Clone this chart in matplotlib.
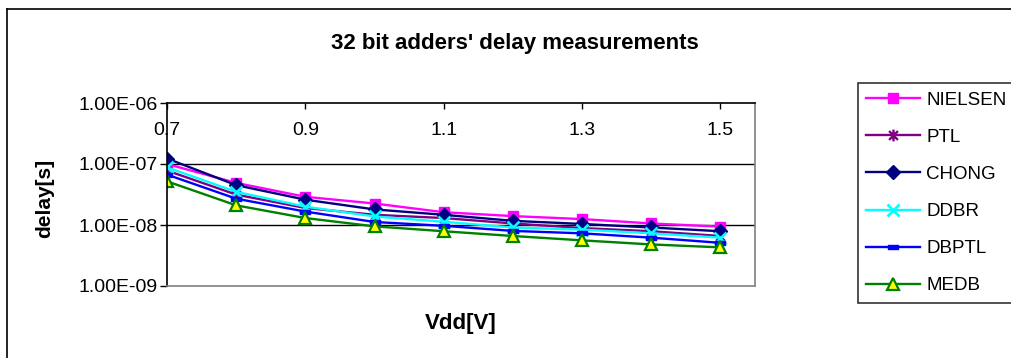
import math
import matplotlib
matplotlib.use("Agg")
import matplotlib.pyplot as plt
from matplotlib.path import Path
from matplotlib.lines import Line2D
from matplotlib.ticker import FixedLocator, FuncFormatter

plt.rcParams['font.family'] = ['Liberation Sans', 'DejaVu Sans']

vdd = [0.7, 0.8, 0.9, 1.0, 1.1, 1.2, 1.3, 1.4, 1.5]
nielsen = [1.0e-7, 4.9e-8, 2.9e-8, 2.25e-8, 1.62e-8, 1.4e-8, 1.25e-8, 1.06e-8, 9.4e-9]
ptl = [7.8e-8, 3.15e-8, 1.9e-8, 1.47e-8, 1.3e-8, 1.06e-8, 8.9e-9, 7.9e-9, 6.6e-9]
chong = [1.23e-7, 4.5e-8, 2.6e-8, 1.8e-8, 1.47e-8, 1.17e-8, 1.04e-8, 9.1e-9, 7.9e-9]
ddbr = [8.8e-8, 3.5e-8, 2.0e-8, 1.38e-8, 1.13e-8, 9.1e-9, 8.4e-9, 7.3e-9, 6.2e-9]
dbptl = [6.7e-8, 2.7e-8, 1.66e-8, 1.12e-8, 9.7e-9, 8.0e-9, 7.3e-9, 6.2e-9, 5.1e-9]
medb = [5.2e-8, 2.1e-8, 1.3e-8, 9.5e-9, 7.9e-9, 6.6e-9, 5.6e-9, 4.8e-9, 4.3e-9]
labels = ["NIELSEN", "PTL", "CHONG", "DDBR", "DBPTL", "MEDB"]
xticks = [0.7, 0.9, 1.1, 1.3, 1.5]
yticks = [1e-9, 1e-8, 1e-7, 1e-6]

W, H = 1011, 358
fig = plt.figure(figsize=(W / 100, H / 100), dpi=100)

def fx(px):
    return px / W

def fy(py):
    return 1 - py / H

L, R, T, B = 167, 755, 103, 286
ax = fig.add_axes([fx(L), fy(B), fx(R - L), (B - T) / H])

star = Path([(0, -1), (0, 1), (-0.75, -0.75), (0.75, 0.75), (-0.75, 0.75), (0.75, -0.75)],
            [Path.MOVETO, Path.LINETO, Path.MOVETO, Path.LINETO, Path.MOVETO, Path.LINETO])
dash = Path([(-1, -0.35), (1, -0.35), (1, 0.35), (-1, 0.35), (-1, -0.35)],
            [Path.MOVETO, Path.LINETO, Path.LINETO, Path.LINETO, Path.CLOSEPOLY])

lw = 1.7
ax.plot(vdd, nielsen, color='#FF00FF', lw=lw, marker='s', ms=7.5, mfc='#FF00FF', mec='#FF00FF', label=labels[0])
ax.plot(vdd, ptl, color='#800080', lw=lw, marker=star, ms=8.5, mec='#800080', mew=1.7, label=labels[1])
ax.plot(vdd, chong, color='#000080', lw=lw, marker='D', ms=7, mfc='#000080', mec='#000080', label=labels[2])
ax.plot(vdd, ddbr, color='#00FFFF', lw=lw, marker='x', ms=8, mec='#00FFFF', mew=1.9, label=labels[3])
ax.plot(vdd, dbptl, color='#0000FF', lw=lw, marker=dash, ms=6.5, mfc='#0000FF', mec='#0000FF', label=labels[4])
ax.plot(vdd, medb, color='#008000', lw=lw, marker='^', ms=8.5, mfc='#FFFF00', mec='#008000', mew=1.6, label=labels[5])

ax.set_yscale('log')
ax.set_ylim(1e-9, 1e-6)
ax.set_xlim(0.7, 1.55)
ax.yaxis.set_major_locator(FixedLocator(yticks))
ax.yaxis.set_minor_locator(FixedLocator([]))
ax.yaxis.set_major_formatter(FuncFormatter(lambda v, p: "1.00E-%02d" % round(-math.log10(v))))
ax.set_xticks(xticks)
ax.set_xticklabels(["%.1f" % v for v in xticks])
ax.xaxis.set_ticks_position('top')
ax.tick_params(axis='x', top=True, bottom=False, labeltop=True, labelbottom=False,
               direction='in', length=4, width=1, pad=-26, labelsize=14, colors='black')
ax.tick_params(axis='y', direction='out', length=5, width=1, pad=2, labelsize=14)
for v in [1e-7, 1e-8]:
    ax.axhline(v, color='black', lw=1, zorder=0.5)

ax.spines['left'].set_color('black')
ax.spines['top'].set_color('black')
ax.spines['right'].set_color('#808080')
ax.spines['bottom'].set_color('#808080')
for s in ax.spines.values():
    s.set_linewidth(1.2)

fig.text(fx(515), fy(43), "32 bit adders' delay measurements", ha='center', va='center',
         fontsize=16, fontweight='bold')
fig.text(fx(461), fy(323), "Vdd[V]", ha='center', va='center', fontsize=16, fontweight='bold')
fig.text(fx(45), fy(198), "delay[s]", ha='center', va='center', rotation=90, fontsize=15, fontweight='bold')

leg = fig.legend(loc='upper left', bbox_to_anchor=(fx(858), fy(83)), borderaxespad=0,
                 fontsize=13.5, frameon=True, fancybox=False, numpoints=1,
                 handlelength=2.88, handletextpad=0.32, labelspacing=1.07, borderpad=0.45)
leg.get_frame().set_edgecolor('black')
leg.get_frame().set_linewidth(1.2)

# chart-area border
fig.add_artist(Line2D([fx(7), fx(7)], [fy(9), 0], color='black', lw=1.2))
fig.add_artist(Line2D([fx(7), 1], [fy(9), fy(9)], color='black', lw=1.2))

fig.savefig("out.png", dpi=100)
